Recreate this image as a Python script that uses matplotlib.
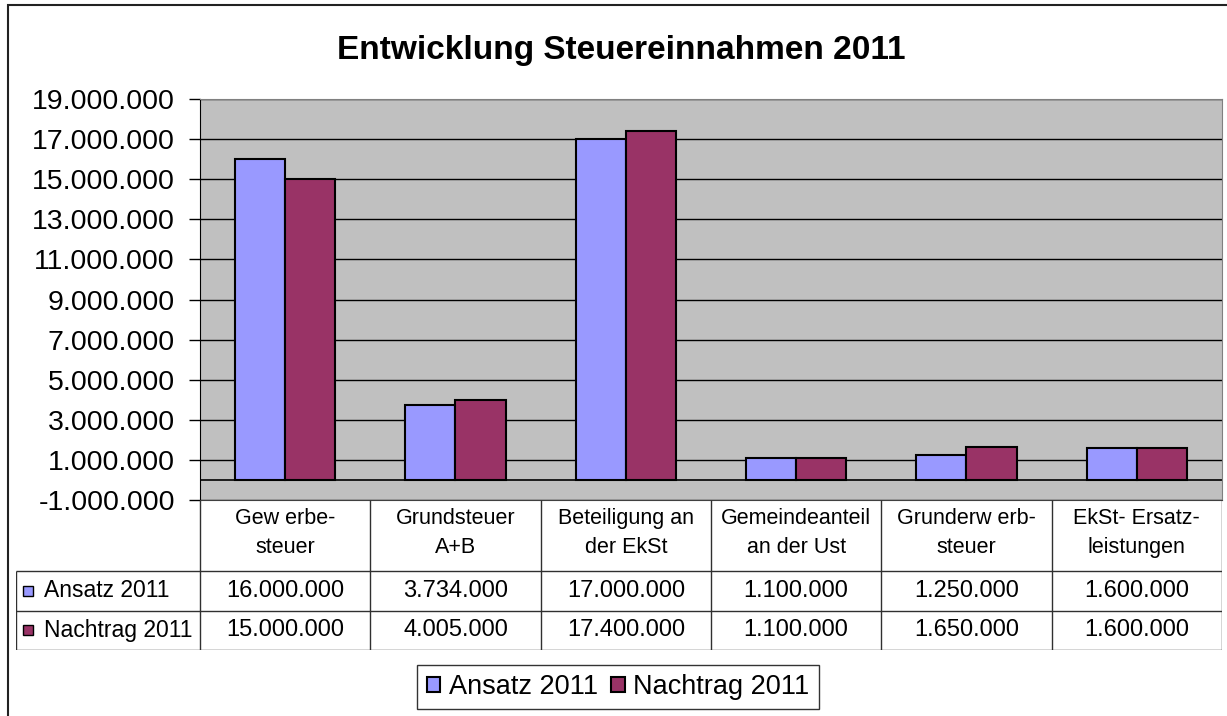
import matplotlib.pyplot as plt
from matplotlib.patches import Rectangle

# --- Data ---
categories = ['Gew erbe-\nsteuer', 'Grundsteuer\nA+B', 'Beteiligung an\nder EkSt',
              'Gemeindeanteil\nan der Ust', 'Grunderw erb-\nsteuer', 'EkSt- Ersatz-\nleistungen']
series_names = ['Ansatz 2011', 'Nachtrag 2011']
ansatz = [16000000, 3734000, 17000000, 1100000, 1250000, 1600000]
nachtrag = [15000000, 4005000, 17400000, 1100000, 1650000, 1600000]
yticks = list(range(-1000000, 19000001, 2000000))

COLORS = ['#9999FF', '#993366']
W, H = 1227, 716
plt.rcParams['font.family'] = ['Liberation Sans', 'DejaVu Sans']


def de(v):
    # German thousands separator
    return f"{v:,.0f}".replace(',', '.')


fig = plt.figure(figsize=(W / 100, H / 100), dpi=100)

# outer chart frame
fig.patches.append(Rectangle((8 / W, -0.05), 1.1, 1 - 5 / H + 0.05, transform=fig.transFigure,
                             fill=False, edgecolor='#222222', linewidth=1.5))

fig.text(621 / W, 1 - 50 / H, 'Entwicklung Steuereinnahmen 2011', ha='center', va='center',
         fontsize=24, fontweight='bold')

# --- Plot area ---
ax = fig.add_axes([200 / W, 1 - 500 / H, 1022 / W, 401 / H])
ax.set_facecolor('#C0C0C0')
x = list(range(len(categories)))
bw = 0.294
b1 = ax.bar([i - bw / 2 for i in x], ansatz, bw, color=COLORS[0], edgecolor='black', linewidth=1.5, zorder=3)
b2 = ax.bar([i + bw / 2 for i in x], nachtrag, bw, color=COLORS[1], edgecolor='black', linewidth=1.5, zorder=3)
ax.set_xlim(-0.5, len(categories) - 0.5)
ax.set_ylim(yticks[0], yticks[-1])
ax.set_yticks(yticks)
ax.set_yticklabels([de(v) for v in yticks], fontsize=20.5)
ax.yaxis.grid(True, color='black', linewidth=1, zorder=1)
ax.axhline(0, color='black', linewidth=1.2, zorder=2)
ax.set_xticks([])
ax.tick_params(axis='y', direction='out', length=8, width=1, pad=10)
for s in ['top', 'right']:
    ax.spines[s].set_color('#808080')
ax.spines['left'].set_color('black')
ax.spines['bottom'].set_color('#404040')

# --- Data table under the plot ---
tx0, tx1, ty0, ty1 = 16, 1222, 500, 650
at = fig.add_axes([tx0 / W, 1 - ty1 / H, (tx1 - tx0) / W, (ty1 - ty0) / H])
at.set_xlim(tx0, tx1)
at.set_ylim(ty1, ty0)
at.axis('off')
colw = (1222 - 200) / len(categories)
bounds = [200 + i * colw for i in range(len(categories) + 1)]
rows_y = [500, 571, 611, 650]
lc = '#303030'
at.vlines(bounds, 500, 650, color=lc, linewidth=1)
at.vlines([tx0], 571, 650, color=lc, linewidth=1)
at.hlines(rows_y[1:], tx0, 1222, color=lc, linewidth=1)

for i, cat in enumerate(categories):
    cx = (bounds[i] + bounds[i + 1]) / 2
    l1, l2 = cat.split('\n')
    at.text(cx, 519, l1, ha='center', va='center', fontsize=15.5)
    at.text(cx, 548, l2, ha='center', va='center', fontsize=15.5)

for r, (name, vals) in enumerate(zip(series_names, [ansatz, nachtrag])):
    cy = (rows_y[r + 1] + rows_y[r + 2]) / 2
    at.add_patch(Rectangle((23, cy - 5), 10, 10, facecolor=COLORS[r], edgecolor='black', linewidth=1))
    at.text(44, cy, name, ha='left', va='center', fontsize=16.5)
    for i, v in enumerate(vals):
        cx = (bounds[i] + bounds[i + 1]) / 2
        at.text(cx, cy, de(v), ha='center', va='center', fontsize=17)

# --- Legend ---
leg = fig.legend([b1, b2], series_names, loc='center', bbox_to_anchor=(618 / W, 1 - 687 / H),
                 ncol=2, fontsize=19.5, frameon=True, fancybox=False, edgecolor='black',
                 handlelength=0.5, handleheight=0.5, handletextpad=0.3, columnspacing=0.5,
                 borderpad=0.35, borderaxespad=0)
leg.get_frame().set_linewidth(1)

fig.savefig('out.png', dpi=100)
